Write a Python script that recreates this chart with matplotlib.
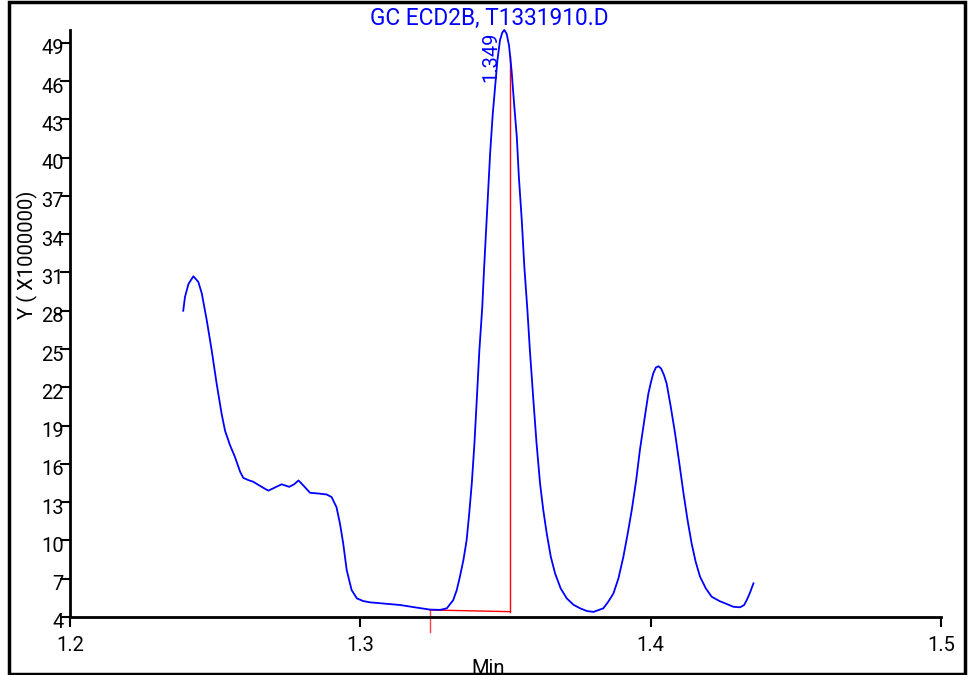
import matplotlib
matplotlib.use("Agg")
import matplotlib.pyplot as plt
import matplotlib.transforms as mtransforms
from matplotlib.patches import Rectangle

plt.rcParams['font.family'] = ['Roboto', 'DejaVu Sans']

# Chromatogram trace (time in min, signal in x1,000,000)
time_min = [1.2390, 1.2396, 1.2408, 1.2425, 1.2442, 1.2454, 1.2471, 1.2488, 1.2505,
            1.2522, 1.2534, 1.2551, 1.2568, 1.2586, 1.2597, 1.2614, 1.2631, 1.2660,
            1.2683, 1.2706, 1.2729, 1.2755, 1.2772, 1.2787, 1.2804, 1.2827, 1.2855,
            1.2884, 1.2901, 1.2918, 1.2930, 1.2941, 1.2953, 1.2970, 1.2988, 1.3010,
            1.3033, 1.3137, 1.3190, 1.3240, 1.3275, 1.3298, 1.3320, 1.3332, 1.3343,
            1.3355, 1.3366, 1.3375, 1.3384, 1.3393, 1.3401, 1.3410, 1.3420, 1.3426,
            1.3435, 1.3447, 1.3456, 1.3464, 1.3472, 1.3481, 1.3489, 1.3496, 1.3504,
            1.3512, 1.3521, 1.3529, 1.3539, 1.3546, 1.3556, 1.3565, 1.3575, 1.3584,
            1.3596, 1.3607, 1.3619, 1.3630, 1.3642, 1.3656, 1.3671, 1.3690, 1.3711,
            1.3734, 1.3757, 1.3780, 1.3803, 1.3837, 1.3854, 1.3872, 1.3889, 1.3906,
            1.3921, 1.3935, 1.3950, 1.3963, 1.3978, 1.3992, 1.4001, 1.4009, 1.4018,
            1.4027, 1.4036, 1.4046, 1.4055, 1.4069, 1.4084, 1.4099, 1.4113, 1.4127,
            1.4141, 1.4155, 1.4170, 1.4190, 1.4210, 1.4237, 1.4262, 1.4285, 1.4308,
            1.4322, 1.4331, 1.4342, 1.4354]
signal = [28.0, 29.08, 30.1, 30.7, 30.26, 29.35, 27.26, 24.9, 22.3,
          19.95, 18.6, 17.47, 16.55, 15.38, 14.9, 14.73, 14.6, 14.2,
          13.9, 14.15, 14.4, 14.2, 14.4, 14.7, 14.3, 13.73, 13.68,
          13.6, 13.4, 12.6, 11.3, 9.77, 7.68, 6.11, 5.46, 5.25,
          5.15, 4.94, 4.75, 4.58, 4.56, 4.68, 5.33, 6.1, 7.16,
          8.46, 10.0, 12.1, 14.5, 17.6, 21.0, 24.9, 28.3, 31.2,
          35.1, 40.3, 43.4, 45.5, 47.6, 49.2, 49.8, 50.0, 49.7,
          48.8, 46.8, 44.4, 41.6, 38.5, 35.1, 31.4, 28.2, 24.9,
          21.0, 17.6, 14.47, 12.4, 10.55, 8.72, 7.4, 6.24, 5.46,
          4.96, 4.68, 4.47, 4.4, 4.68, 5.2, 5.86, 7.03, 8.72,
          10.55, 12.4, 14.7, 17.1, 19.4, 21.5, 22.4, 23.1, 23.55,
          23.65, 23.47, 22.95, 22.3, 20.5, 18.4, 16.0, 13.7, 11.6,
          9.77, 8.33, 7.16, 6.24, 5.59, 5.25, 5.02, 4.8, 4.76,
          4.94, 5.33, 5.9, 6.64]

# Integration baseline of peak 1.349
base_x = [1.3240, 1.3516]
base_y = [4.55, 4.42]
drop_top = 48.0
start_tick_bottom = 2.85
peak_label = "1.349"
peak_label_pos = (1.3449, 47.9)

x_ticks = [1.2, 1.3, 1.4, 1.5]
y_ticks = [4, 7, 10, 13, 16, 19, 22, 25, 28, 31, 34, 37, 40, 43, 46, 49]

fig = plt.figure(figsize=(9.71, 6.75), dpi=100)
ax = fig.add_axes([70/971, 1-617/675, 871/971, 587/675])

ax.plot(time_min, signal, color='#0000ff', lw=1.3, clip_on=False, zorder=3,
        solid_joinstyle='round')
ax.plot(base_x, base_y, color='#ff0000', lw=1.0, clip_on=False, zorder=2)
ax.plot([base_x[1], base_x[1]], [base_y[1], drop_top], color='#ff0000', lw=1.0, clip_on=False, zorder=2)
ax.plot([base_x[0], base_x[0]], [base_y[0], start_tick_bottom], color='#ff4040', lw=1.0, clip_on=False, zorder=2)

ax.text(peak_label_pos[0], peak_label_pos[1], peak_label, rotation=90, color='#0000ff',
        fontsize=14.5, ha='center', va='center')

ax.set_xlim(1.2, 1.5)
ax.set_ylim(4, 50)
ax.set_xticks(x_ticks)
ax.set_xticklabels([f"{v:.1f}" for v in x_ticks])
ax.set_yticks(y_ticks)
ax.set_yticklabels([str(v) for v in y_ticks])

for s in ['top', 'right']:
    ax.spines[s].set_visible(False)
for s in ['left', 'bottom']:
    ax.spines[s].set_linewidth(2.0)
    ax.spines[s].set_color('black')

ax.tick_params(axis='y', direction='out', length=7, width=1.5, pad=-2.5, labelsize=14.5)
ax.tick_params(axis='x', direction='out', length=7, width=1.5, pad=7, labelsize=14.5)

shift = mtransforms.ScaledTranslation(0, -4/100, fig.dpi_scale_trans)
for lab in ax.get_yticklabels():
    lab.set_transform(lab.get_transform() + shift)

fig.text(489/971, 1-18/675, "GC ECD2B, T1331910.D", color='#0000ff', fontsize=16.3,
         ha='center', va='center')
fig.text(27/971, 1-255/675, "Y ( X1000000)", rotation=90, color='black', fontsize=14.5,
         ha='center', va='center')
fig.text(488/971, 1-659/675, "Min", color='black', fontsize=14.5, ha='center', va='top')

border = Rectangle((9/971, 1.5/675), 956/971, 672/675, transform=fig.transFigure,
                   fill=False, edgecolor='black', lw=2.5, zorder=10)
fig.add_artist(border)

fig.savefig("out.png", dpi=100)
